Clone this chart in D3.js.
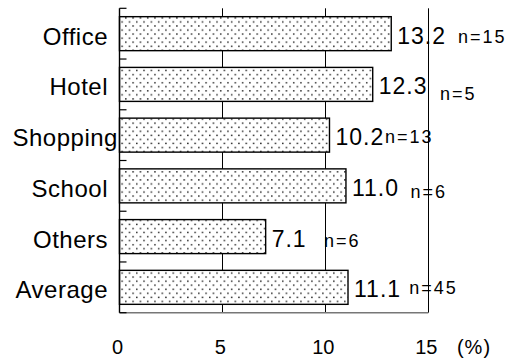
<!DOCTYPE html>
<html><head><meta charset="utf-8">
<script src="https://cdn.jsdelivr.net/npm/d3@7"></script>
<style>body{margin:0;background:#fff}svg{display:block}text{font-family:"Liberation Sans",Arial,sans-serif;fill:#000}</style>
</head><body><svg id="c" width="513" height="358"></svg>
<script>
// data
const categories = ["Office","Hotel","Shopping","School","Others","Average"];
const values = [13.2, 12.3, 10.2, 11.0, 7.1, 11.1];
const counts = ["n=15","n=5","n=13","n=6","n=6","n=45"];
const xTicks = [0, 5, 10, 15];
const unitLabel = "(%)";
// layout of the free-placed n labels (x in axis units, dy in px)
const nLabelX = [16.44, 15.57, 12.9, 14.14, 9.93, 14.07];
const nLabelDy = [3, 8.8, 1.6, 6, 3.6, 0];

const svg = d3.select("#c");
const x = d3.scaleLinear().domain([0,15]).range([119.5,428.3]);
const y = d3.scaleBand().domain(categories).range([8.3,312.7]).paddingInner(0.33).paddingOuter(0.165);

const defs = svg.append("defs");
const pat = defs.append("pattern").attr("id","dots").attr("patternUnits","userSpaceOnUse")
  .attr("width",7.3).attr("height",8.1);
pat.append("rect").attr("width",7.3).attr("height",8.1).attr("fill","#fff");
pat.append("rect").attr("x",1).attr("y",1).attr("width",1.4).attr("height",1.4).attr("fill","#111");
pat.append("rect").attr("x",4.65).attr("y",5.05).attr("width",1.4).attr("height",1.4).attr("fill","#111");

// gridlines
svg.append("g").selectAll("line").data(xTicks.filter(d=>d>0)).join("line")
  .attr("x1",d=>Math.round(x(d))+0.5).attr("x2",d=>Math.round(x(d))+0.5)
  .attr("y1",y.range()[0]).attr("y2",y.range()[1])
  .attr("stroke","#000").attr("stroke-width",1);

// bottom axis line
svg.append("line").attr("x1",x(0)).attr("x2",x(15)).attr("y1",312.7).attr("y2",312.7)
  .attr("stroke","#777").attr("stroke-width",1.5);

// bars
svg.append("g").selectAll("rect").data(values).join("rect")
  .attr("x",x(0)).attr("y",(d,i)=>y(categories[i]))
  .attr("width",d=>x(d)-x(0)).attr("height",y.bandwidth())
  .attr("fill","url(#dots)").attr("stroke","#000").attr("stroke-width",1.4);

// left axis with boundary ticks
const step = y.step();
const bounds = d3.range(categories.length+1).map(i=>y.range()[0]+i*step);
svg.append("line").attr("x1",x(0)).attr("x2",x(0)).attr("y1",y.range()[0]).attr("y2",y.range()[1])
  .attr("stroke","#000").attr("stroke-width",1.4);
svg.append("g").selectAll("line").data(bounds).join("line")
  .attr("x1",x(0)).attr("x2",x(0)+7).attr("y1",d=>d).attr("y2",d=>d)
  .attr("stroke","#000").attr("stroke-width",1.2);

// category labels
const cl = svg.append("g").selectAll("text").data(categories).join("text")
  .attr("x",108).attr("y",d=>y(d)+y.bandwidth()/2+2.5).attr("dy","0.35em")
  .attr("text-anchor","end").attr("font-size",24).attr("letter-spacing",0.5).text(d=>d);
cl.each(function(){const b=this.getBBox(); if(b.x<12.5){d3.select(this).attr("text-anchor","start").attr("x",12.5);}});

// value labels
svg.append("g").selectAll("text").data(values).join("text")
  .attr("x",d=>x(d)+6).attr("y",(d,i)=>y(categories[i])+y.bandwidth()/2+2).attr("dy","0.35em")
  .attr("font-size",23).attr("letter-spacing",1).text(d=>d.toFixed(1));

// n labels
svg.append("g").selectAll("text").data(counts).join("text")
  .attr("x",(d,i)=>x(nLabelX[i])).attr("y",(d,i)=>y(categories[i])+y.bandwidth()/2+nLabelDy[i]).attr("dy","0.35em")
  .attr("font-size",18).attr("letter-spacing",2).text(d=>d);

// x tick labels
svg.append("g").selectAll("text").data(xTicks).join("text")
  .attr("x",d=>x(d)-2).attr("y",353.5).attr("text-anchor","middle")
  .attr("font-size",20).text(d=>d);
svg.append("text").attr("x",474).attr("y",353.5).attr("text-anchor","middle")
  .attr("font-size",20).attr("letter-spacing",1).text(unitLabel);
</script></body></html>
